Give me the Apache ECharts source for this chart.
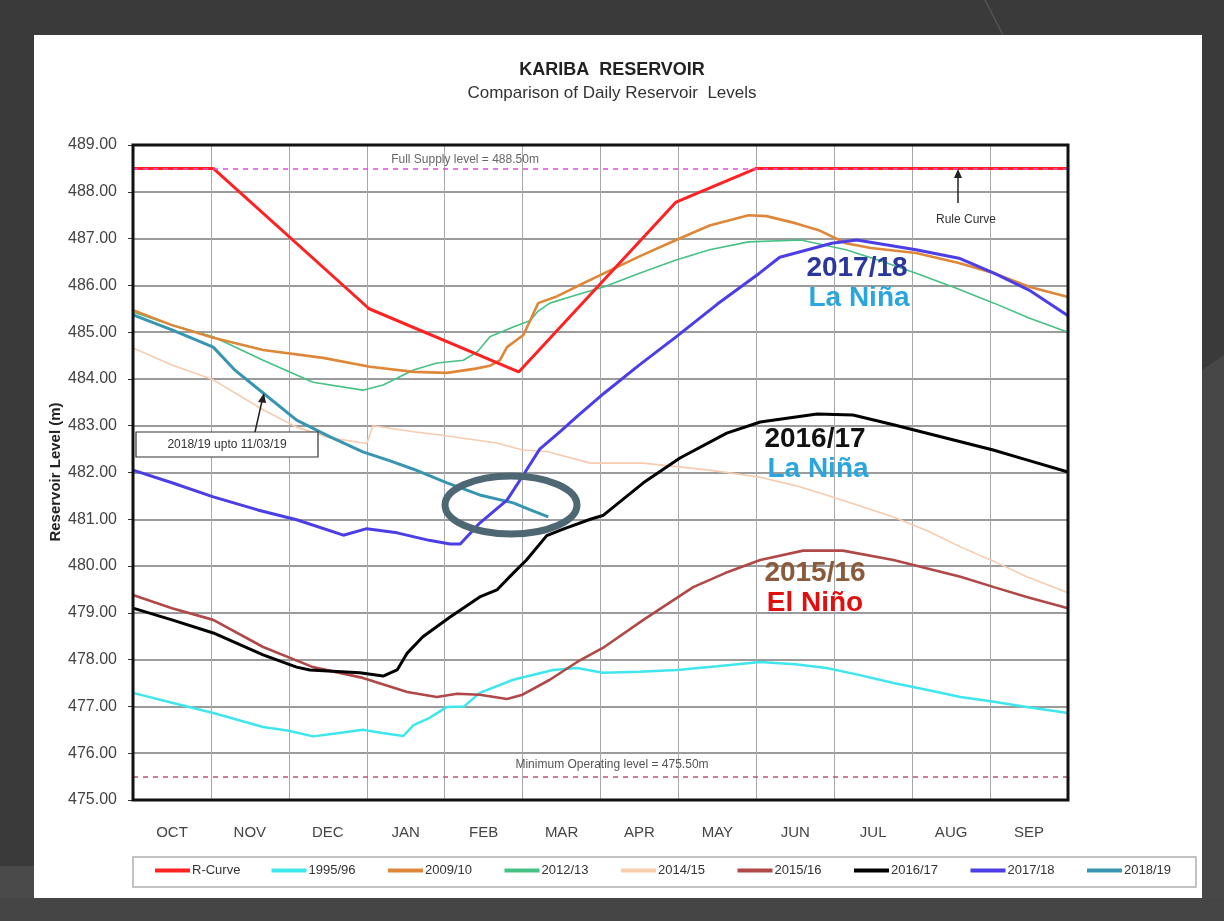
<!DOCTYPE html>
<html>
<head>
<meta charset="utf-8">
<title>Kariba Reservoir</title>
<script src="https://cdn.jsdelivr.net/npm/echarts/dist/echarts.min.js"></script>
<style>
html, body { margin: 0; padding: 0; background: #3a3a3a; }
#main { width: 1224px; height: 921px; }
</style>
</head>
<body>
<div id="main"></div>
<script>
// month labels (hydrological year, Oct - Sep)
var months = ['OCT', 'NOV', 'DEC', 'JAN', 'FEB', 'MAR', 'APR', 'MAY', 'JUN', 'JUL', 'AUG', 'SEP'];
var yTicks = { min: 475, max: 489, step: 1 };
var fullSupply = 488.5;
var minOperating = 475.5;

// [month offset from 1 Oct, level in m]
var rCurve = [[0, 488.5], [1.03, 488.5], [3.03, 485.5], [4.95, 484.15], [6.97, 487.78], [8, 488.5], [12, 488.5]];

var y1995 = [[0, 477.29], [0.5, 477.08], [1.03, 476.86], [1.67, 476.56], [2.0, 476.48], [2.31, 476.36],
  [2.6, 476.42], [2.95, 476.5], [3.2, 476.43], [3.47, 476.37], [3.6, 476.6], [3.8, 476.75], [4.03, 476.99],
  [4.25, 477.0], [4.45, 477.29], [4.88, 477.57], [5.39, 477.78], [5.7, 477.82], [6.03, 477.72], [6.5, 477.74],
  [6.98, 477.78], [7.5, 477.86], [8.05, 477.95], [8.5, 477.9], [8.9, 477.82], [9.3, 477.68], [9.76, 477.5],
  [10.2, 477.35], [10.62, 477.2], [11.05, 477.1], [11.47, 476.99], [12, 476.86]];

var y2009 = [[0, 485.47], [0.5, 485.15], [1.03, 484.88], [1.67, 484.62], [2.44, 484.45], [3.04, 484.26],
  [3.6, 484.15], [4.03, 484.13], [4.4, 484.22], [4.58, 484.28], [4.71, 484.4], [4.8, 484.68], [5.01, 484.94],
  [5.1, 485.26], [5.2, 485.62], [5.42, 485.75], [5.7, 485.98], [6.05, 486.26], [6.5, 486.62], [6.97, 486.97],
  [7.4, 487.28], [7.9, 487.5], [8.13, 487.48], [8.5, 487.33], [8.8, 487.18], [9.15, 486.9], [9.47, 486.8],
  [10.05, 486.69], [10.6, 486.48], [11.05, 486.26], [11.5, 485.97], [12, 485.75]];

var y2012 = [[0, 485.43], [0.5, 485.15], [1.03, 484.9], [1.67, 484.4], [2.31, 483.93], [2.95, 483.76],
  [3.21, 483.87], [3.6, 484.19], [3.9, 484.34], [4.24, 484.4], [4.42, 484.58], [4.58, 484.9], [4.88, 485.11],
  [5.1, 485.25], [5.2, 485.45], [5.35, 485.62], [5.7, 485.8], [6.05, 485.97], [6.5, 486.26], [6.97, 486.54],
  [7.4, 486.76], [7.9, 486.93], [8.57, 486.97], [9.15, 486.76], [9.6, 486.52], [10.05, 486.26], [10.55, 485.95],
  [11.05, 485.62], [11.5, 485.3], [12, 485.0]];

var y2014 = [[0, 484.66], [0.5, 484.3], [1.03, 483.98], [1.67, 483.34], [2.1, 482.97], [2.53, 482.74],
  [3.0, 482.62], [3.08, 483.0], [3.6, 482.87], [3.94, 482.8], [4.67, 482.63], [5.0, 482.48], [5.31, 482.45],
  [5.87, 482.2], [6.55, 482.2], [7.4, 482.05], [8.05, 481.9], [8.5, 481.72], [8.9, 481.52], [9.76, 481.05],
  [10.2, 480.75], [10.62, 480.41], [11.05, 480.1], [11.47, 479.77], [12, 479.43]];

var y2015 = [[0, 479.38], [0.5, 479.1], [1.03, 478.85], [1.67, 478.27], [2.31, 477.84], [2.95, 477.61],
  [3.52, 477.31], [3.9, 477.2], [4.16, 477.27], [4.45, 477.25], [4.8, 477.16], [5.0, 477.25], [5.35, 477.57],
  [5.7, 477.95], [6.03, 478.25], [6.55, 478.85], [7.19, 479.55], [7.6, 479.85], [8.05, 480.13], [8.6, 480.33],
  [9.11, 480.33], [9.76, 480.13], [10.62, 479.77], [11.05, 479.55], [11.47, 479.34], [12, 479.1]];

var y2016 = [[0, 479.1], [0.5, 478.85], [1.03, 478.57], [1.67, 478.1], [2.1, 477.84], [2.27, 477.78],
  [2.91, 477.72], [3.21, 477.65], [3.39, 477.78], [3.52, 478.14], [3.72, 478.49], [4.07, 478.91], [4.45, 479.34],
  [4.67, 479.49], [4.88, 479.85], [5.05, 480.13], [5.31, 480.65], [5.52, 480.79], [5.87, 481.0], [6.03, 481.08],
  [6.55, 481.78], [7.02, 482.31], [7.62, 482.84], [8.05, 483.08], [8.78, 483.25], [9.24, 483.23], [9.76, 483.02],
  [10.19, 482.84], [11.04, 482.48], [11.47, 482.27], [12, 482.01]];

var y2017 = [[0, 482.05], [0.5, 481.78], [1.03, 481.48], [1.6, 481.2], [2.1, 480.99], [2.7, 480.66],
  [3.0, 480.8], [3.39, 480.71], [3.8, 480.55], [4.07, 480.47], [4.2, 480.47], [4.45, 480.92], [4.8, 481.41],
  [5.03, 482.0], [5.22, 482.5], [5.5, 482.9], [5.7, 483.2], [6.05, 483.7], [6.5, 484.3], [6.97, 484.9],
  [7.5, 485.6], [8.04, 486.26], [8.3, 486.6], [8.97, 486.9], [9.29, 486.97], [10.05, 486.76], [10.6, 486.58],
  [11.05, 486.26], [11.5, 485.9], [12, 485.35]];

var y2018 = [[0, 485.37], [0.5, 485.05], [1.03, 484.68], [1.3, 484.2], [1.67, 483.7], [2.1, 483.12],
  [2.53, 482.76], [2.95, 482.44], [3.3, 482.25], [3.6, 482.07], [4.03, 481.78], [4.45, 481.52], [4.88, 481.35],
  [5.1, 481.2], [5.33, 481.05]];

var legendNames = ['R-Curve', '1995/96', '2009/10', '2012/13', '2014/15', '2015/16', '2016/17', '2017/18', '2018/19'];

var dom = document.getElementById('main');
var myChart = echarts.init(dom);
var option = null;

function line(name, data, color, width) {
  return {
    name: name,
    type: 'line',
    xAxisIndex: 1,
    data: data,
    color: color,
    showSymbol: false,
    symbol: 'none',
    smooth: false,
    animation: false,
    lineStyle: { color: color, width: width }
  };
}

var font = 'Liberation Sans, Arial, sans-serif';

// one legend per entry so the slots are evenly spaced like the original
var legends = legendNames.map(function (name, i) {
  return {
    data: [name],
    left: 155 + i * 116.5,
    top: 864,
    padding: 0,
    itemWidth: 35,
    itemHeight: 4,
    itemGap: 0,
    icon: 'rect',
    textStyle: { color: '#333', fontSize: 13, fontFamily: font, padding: [0, 0, 0, -3] }
  };
});

option = {
  backgroundColor: '#3a3a3a',
  animation: false,
  textStyle: { fontFamily: font },
  grid: { left: 133, top: 145, width: 935, height: 655, containLabel: false },
  legend: legends,
  xAxis: [{
    type: 'category',
    data: months,
    boundaryGap: true,
    axisLine: { show: false },
    axisTick: { show: false },
    axisLabel: { color: '#444', fontSize: 15, margin: 25, fontFamily: font },
    splitLine: { show: true, interval: 0, lineStyle: { color: '#a8a8a8', width: 1 } }
  }, {
    type: 'value',
    min: 0,
    max: 12,
    show: false
  }],
  yAxis: {
    type: 'value',
    min: yTicks.min,
    max: yTicks.max,
    interval: yTicks.step,
    axisLine: { show: false },
    axisTick: { show: true, length: 5, lineStyle: { color: '#333' } },
    axisLabel: {
      color: '#444', fontSize: 16, margin: 16, fontFamily: font,
      formatter: function (v) { return v.toFixed(2); }
    },
    splitLine: { lineStyle: { color: '#7a7a7a', width: 1.5 } }
  },
  series: [
    {
      name: 'levels',
      type: 'line',
      xAxisIndex: 1,
      data: [],
      silent: true,
      markLine: {
        silent: true,
        symbol: 'none',
        label: { show: false },
        data: [
          { yAxis: fullSupply, lineStyle: { color: '#e04ce0', type: [5, 5], width: 1.5 } },
          { yAxis: minOperating, lineStyle: { color: '#b45a72', type: [5, 5], width: 1.5 } }
        ]
      }
    },
    line('2014/15', y2014, '#f7cbae', 1.6),
    line('2012/13', y2012, '#45c184', 1.6),
    line('1995/96', y1995, '#3fe6ee', 2.5),
    line('2009/10', y2009, '#df8738', 2.6),
    line('2015/16', y2015, '#b04848', 2.6),
    line('2016/17', y2016, '#000000', 3),
    line('2018/19', y2018, '#3795b2', 3),
    line('2017/18', y2017, '#4b3ee6', 3),
    line('R-Curve', rCurve, '#ff2222', 3)
  ],
  graphic: [
    // frame
    { type: 'rect', z: -10, silent: true, shape: { x: 34, y: 35, width: 1168, height: 863 }, style: { fill: '#ffffff' } },
    { type: 'polygon', z: -11, silent: true, shape: { points: [[0, 898], [1224, 898], [1224, 921], [0, 921]] }, style: { fill: '#454545' } },
    { type: 'polygon', z: -11, silent: true, shape: { points: [[0, 866], [34, 866], [34, 898], [0, 898]] }, style: { fill: '#4a4a4a' } },
    { type: 'polygon', z: -11, silent: true, shape: { points: [[1202, 370], [1224, 355], [1224, 898], [1202, 898]] }, style: { fill: '#474747' } },
    { type: 'line', z: -11, silent: true, shape: { x1: 985, y1: 0, x2: 1003, y2: 35 }, style: { stroke: '#555', lineWidth: 1.5 } },
    // legend box
    { type: 'rect', z: -5, silent: true, shape: { x: 133, y: 857, width: 1063, height: 30 }, style: { fill: '#fff', stroke: '#b0b0b0', lineWidth: 1.5 } },
    // plot border
    { type: 'rect', z: 100, silent: true, shape: { x: 133, y: 145, width: 935, height: 655 }, style: { fill: null, stroke: '#111', lineWidth: 3 } },
    // titles
    { type: 'text', z: 100, left: 'center', top: 61, style: { text: 'KARIBA  RESERVOIR', font: 'bold 18px ' + font, fill: '#222' } },
    { type: 'text', z: 100, left: 'center', top: 85, style: { text: 'Comparison of Daily Reservoir  Levels', font: '17px ' + font, fill: '#333' } },
    { type: 'text', z: 100, x: 56, y: 472, rotation: Math.PI / 2, style: { text: 'Reservoir Level (m)', font: 'bold 15px ' + font, fill: '#222', align: 'center', verticalAlign: 'middle' } },
    // reference line labels
    { type: 'text', z: 100, x: 465, y: 160, style: { text: 'Full Supply level = 488.50m', font: '12px ' + font, fill: '#666', align: 'center', verticalAlign: 'middle' } },
    { type: 'text', z: 100, x: 612, y: 765, style: { text: 'Minimum Operating level = 475.50m', font: '12px ' + font, fill: '#555', align: 'center', verticalAlign: 'middle' } },
    // rule curve note
    { type: 'line', z: 100, shape: { x1: 958, y1: 203, x2: 958, y2: 176 }, style: { stroke: '#222', lineWidth: 1.5 } },
    { type: 'polygon', z: 100, shape: { points: [[958, 169], [954, 178], [962, 178]] }, style: { fill: '#222' } },
    { type: 'text', z: 100, x: 966, y: 220, style: { text: 'Rule Curve', font: '12px ' + font, fill: '#333', align: 'center', verticalAlign: 'middle' } },
    // 2018/19 note
    { type: 'rect', z: 100, shape: { x: 136, y: 432, width: 182, height: 25 }, style: { fill: '#fff', stroke: '#333', lineWidth: 1.2 } },
    { type: 'text', z: 101, x: 227, y: 445, style: { text: '2018/19 upto 11/03/19', font: '12px ' + font, fill: '#333', align: 'center', verticalAlign: 'middle' } },
    { type: 'line', z: 100, shape: { x1: 255, y1: 432, x2: 262, y2: 401 }, style: { stroke: '#222', lineWidth: 1.5 } },
    { type: 'polygon', z: 100, shape: { points: [[264, 393], [258, 402], [266, 403]] }, style: { fill: '#222' } },
    // highlight ellipse
    { type: 'ellipse', z: 100, shape: { cx: 511, cy: 505, rx: 66, ry: 29 }, style: { fill: null, stroke: '#4d6773', lineWidth: 7 } },
    // year annotations
    { type: 'text', z: 100, x: 857, y: 268, style: { text: '2017/18', font: 'bold 28px ' + font, fill: '#2a379c', align: 'center', verticalAlign: 'middle' } },
    { type: 'text', z: 100, x: 859, y: 298, style: { text: 'La Niña', font: 'bold 28px ' + font, fill: '#2aa6de', align: 'center', verticalAlign: 'middle' } },
    { type: 'text', z: 100, x: 815, y: 439, style: { text: '2016/17', font: 'bold 28px ' + font, fill: '#111', align: 'center', verticalAlign: 'middle' } },
    { type: 'text', z: 100, x: 818, y: 469, style: { text: 'La Niña', font: 'bold 28px ' + font, fill: '#2aa6de', align: 'center', verticalAlign: 'middle' } },
    { type: 'text', z: 100, x: 815, y: 573, style: { text: '2015/16', font: 'bold 28px ' + font, fill: '#8a5a3a', align: 'center', verticalAlign: 'middle' } },
    { type: 'text', z: 100, x: 815, y: 603, style: { text: 'El Niño', font: 'bold 28px ' + font, fill: '#e01010', align: 'center', verticalAlign: 'middle' } }
  ]
};

if (option && typeof option === "object") {
  myChart.setOption(option, true);
}
</script>
</body>
</html>
